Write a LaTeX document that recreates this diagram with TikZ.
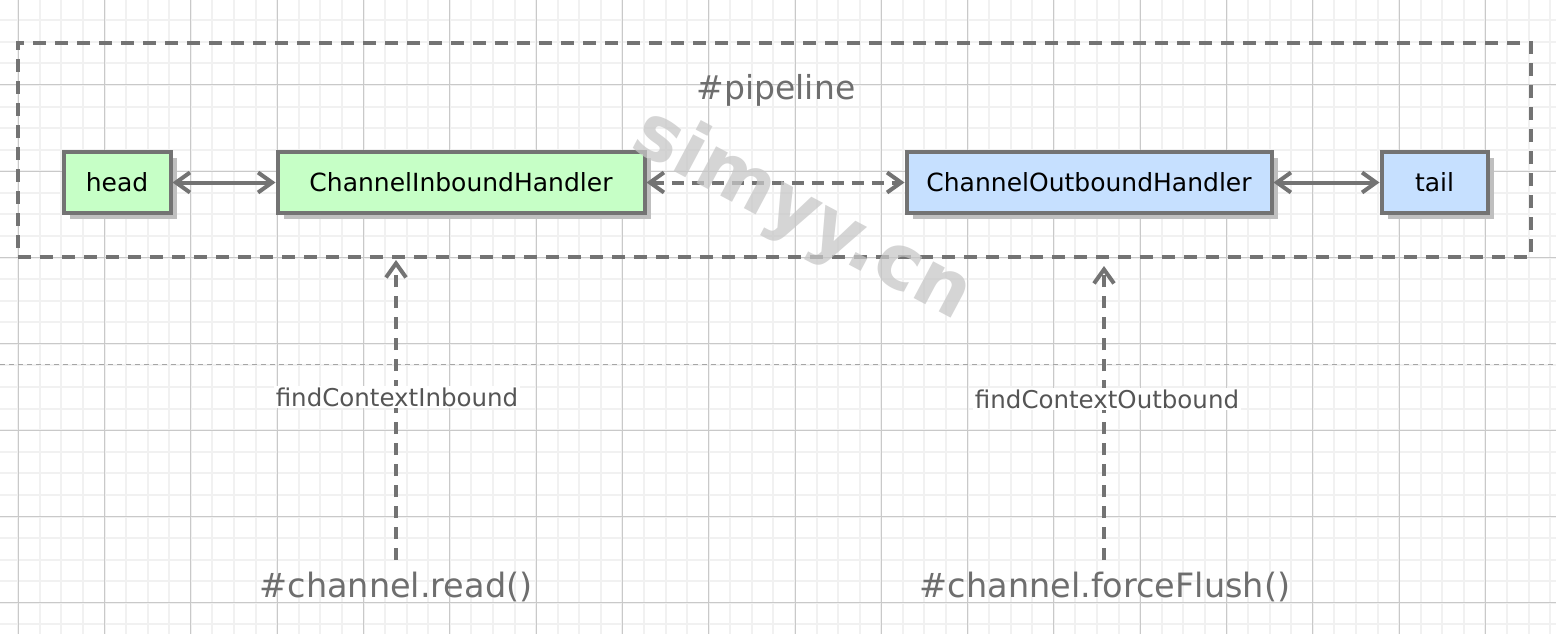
\documentclass[tikz,border=0pt]{standalone}
\usepackage{fontspec}
\setmainfont{DejaVu Sans}
\usetikzlibrary{arrows.meta,shadows}
\definecolor{edgegray}{HTML}{737373}
\definecolor{txtgray}{HTML}{6E6E6E}
\definecolor{lblgray}{HTML}{555555}
\definecolor{minorgrid}{HTML}{F1F1F1}
\definecolor{majorgrid}{HTML}{C9C9C9}
\definecolor{ingreen}{HTML}{C6FFC6}
\definecolor{outblue}{HTML}{C6E0FF}
\tikzset{
  handler/.style={draw=edgegray, line width=4pt, minimum height=61pt, inner sep=0pt,
    font=\fontsize{25}{30}\selectfont, text=black,
    drop shadow={shadow xshift=6pt, shadow yshift=-6pt, fill=black!25, opacity=1}},
  inbox/.style={handler, fill=ingreen},
  outbox/.style={handler, fill=outblue},
  tipb/.tip={Straight Barb[length=14pt, width=20pt, line width=4pt]},
  link/.style={draw=edgegray, line width=4pt, tipb-tipb},
  dlink/.style={link, dash pattern=on 12pt off 8pt},
  uparr/.style={draw=edgegray, line width=4pt, -tipb, dash pattern=on 12pt off 9pt},
  frame/.style={draw=edgegray, line width=4pt, dash pattern=on 13pt off 9pt},
  bigtitle/.style={text=txtgray, inner sep=1pt},
  steplabel/.style={text=lblgray, fill=white, inner sep=2pt, font=\fontsize{24.5}{28}\selectfont},
}
\begin{document}
\begin{tikzpicture}[x=1pt,y=-1pt]
\useasboundingbox (0,0) rectangle (1556,634);
\fill[white] (0,0) rectangle (1556,634);
% grid
\foreach \k in {-1,...,72} {
  \draw[minorgrid, line width=2pt] ({18.3+21.575*\k},0) -- ({18.3+21.575*\k},634);
}
\foreach \k in {0,...,30} {
  \draw[minorgrid, line width=2pt] (0,{-1.3+21.575*\k}) -- (1556,{-1.3+21.575*\k});
}
\foreach \k in {0,...,18} {
  \draw[majorgrid, line width=1pt] ({18.3+86.3*\k},0) -- ({18.3+86.3*\k},634);
}
\foreach \k in {0,...,8} {
  \draw[majorgrid, line width=1pt] (0,{-1.3+86.3*\k}) -- (1556,{-1.3+86.3*\k});
}
\coordinate (sepL) at (0,364);
\coordinate (sepR) at (1556,364);
\draw[black!35, line width=1pt, dash pattern=on 5pt off 4pt] (sepL) -- (sepR);

% pipeline frame
\node[frame, minimum width=1513pt, minimum height=214pt, inner sep=0pt] (pipe) at (774.5,150) {};
\node[bigtitle, font=\fontsize{33}{38}\selectfont] (ptitle) at (776,90) {\#pipeline};

% handlers
\node[inbox, minimum width=107pt] (head) at (117,182.5) {head};
\node[inbox, minimum width=367pt] (inb) at (461,182.5) {ChannelInboundHandler};
\node[outbox, minimum width=365pt] (outb) at (1089,182.5) {ChannelOutboundHandler};
\node[outbox, minimum width=106pt] (tail) at (1434.5,182.5) {tail};

\draw[link] (head) -- (inb);
\draw[dlink] (inb) -- (outb);
\draw[link] (outb) -- (tail);

% watermark
\node[text=black!22, opacity=0.75, rotate=-28, font=\fontsize{76}{82}\selectfont\bfseries] (wm) at (802,216) {simyy.cn};

% calls
\node[bigtitle, font=\fontsize{33.5}{38}\selectfont] (rd) at (396,587) {\#channel.read()};
\node[bigtitle, font=\fontsize{33.5}{38}\selectfont] (ff) at (1105,587) {\#channel.forceFlush()};
\coordinate (rdtop) at (396,560);
\coordinate (rdtip) at (396,260);
\coordinate (fftop) at (1104,560);
\coordinate (fftip) at (1104,266);
\draw[uparr] (rdtop) -- (rdtip);
\draw[uparr] (fftop) -- (fftip);
\node[steplabel] (fci) at (397,397) {findContextInbound};
\node[steplabel] (fco) at (1107,399) {findContextOutbound};
\end{tikzpicture}
\end{document}
